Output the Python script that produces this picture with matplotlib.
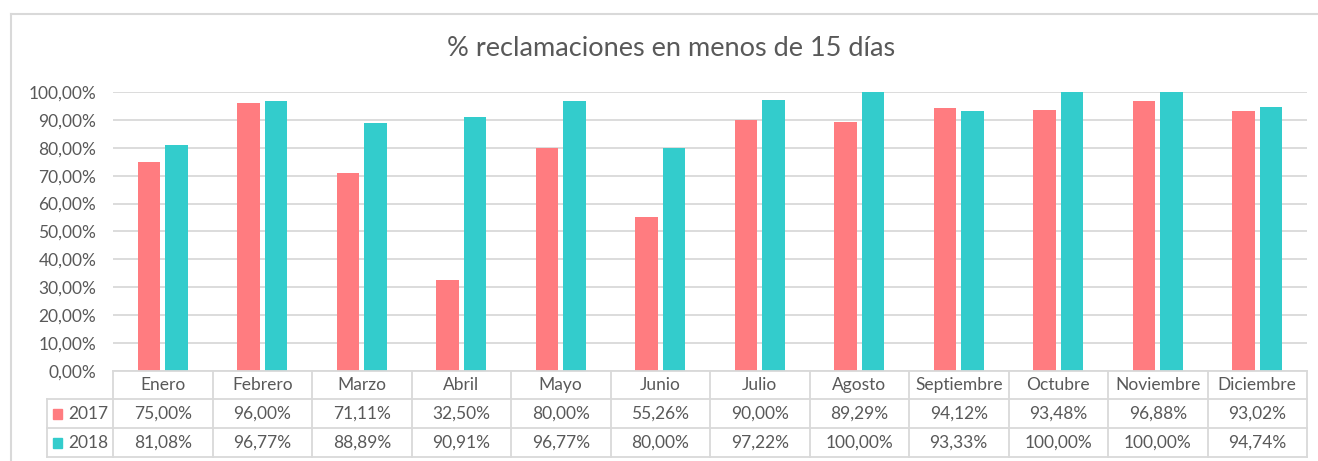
import matplotlib
matplotlib.use("Agg")
import matplotlib.pyplot as plt
from matplotlib.lines import Line2D
from matplotlib.transforms import blended_transform_factory
import numpy as np

months = ["Enero", "Febrero", "Marzo", "Abril", "Mayo", "Junio", "Julio",
          "Agosto", "Septiembre", "Octubre", "Noviembre", "Diciembre"]
v2017 = [75.00, 96.00, 71.11, 32.50, 80.00, 55.26, 90.00, 89.29, 94.12, 93.48, 96.88, 93.02]
v2018 = [81.08, 96.77, 88.89, 90.91, 96.77, 80.00, 97.22, 100.00, 93.33, 100.00, 100.00, 94.74]
series_names = ["2017", "2018"]
title = "% reclamaciones en menos de 15 días"

C17 = "#FF7C80"
C18 = "#33CCCC"
GRID = "#D9D9D9"
TXT = "#595959"

plt.rcParams['font.family'] = ['Lato', 'DejaVu Sans']

W, H = 1318, 461
fig = plt.figure(figsize=(W / 100, H / 100), dpi=100)

def fx(px):
    return px / W

def fy(py):
    return 1 - py / H

left, right, top, bottom = 113, 1307, 92, 371
ax = fig.add_axes([fx(left), fy(bottom), fx(right) - fx(left), fy(top) - fy(bottom)])

x = np.arange(len(months))
bw = 0.225
off = 0.137
ax.bar(x - off, np.array(v2017) / 100, width=bw, color=C17, zorder=3)
ax.bar(x + off, np.array(v2018) / 100, width=bw, color=C18, zorder=3)

ax.set_xlim(-0.5, len(months) - 0.5)
ax.set_ylim(0, 1)
ticks = np.arange(0, 1.01, 0.1)
ax.set_yticks(ticks)
ax.set_yticklabels([f"{t*100:.2f}%".replace(".", ",") for t in ticks], color=TXT, fontsize=12.5)
ax.tick_params(axis='y', length=0, pad=12)
ax.set_xticks([])
for s in ax.spines.values():
    s.set_visible(False)
ax.yaxis.grid(True, color=GRID, linewidth=1.3, zorder=0)
ax.set_axisbelow(True)

# outer chart border
fig.add_artist(Line2D([fx(11), 1], [fy(14), fy(14)], color=GRID, linewidth=1.5, transform=fig.transFigure))
fig.add_artist(Line2D([fx(11), fx(11)], [fy(14), 0], color=GRID, linewidth=1.5, transform=fig.transFigure))

# title
fig.text(fx(671), fy(49), title, ha='center', va='center', fontsize=19.5, color=TXT)

# data table
tr = blended_transform_factory(ax.transData, fig.transFigure)
rows_y = [371, 399, 428, 457]
lw = 1.3
fig.add_artist(Line2D([-0.5, len(months) - 0.5], [fy(371), fy(371)], color=GRID, lw=lw, transform=tr))
for yy in rows_y[1:]:
    fig.add_artist(Line2D([fx(47), fx(right)], [fy(yy), fy(yy)], color=GRID, lw=lw, transform=fig.transFigure))
for i in range(len(months) + 1):
    xb = i - 0.5
    fig.add_artist(Line2D([xb, xb], [fy(371), fy(457)], color=GRID, lw=lw, transform=tr))
fig.add_artist(Line2D([fx(47), fx(47)], [fy(399), fy(457)], color=GRID, lw=lw, transform=fig.transFigure))

fs = 12.5
for i, m in enumerate(months):
    fig.text(i, fy(385), m, transform=tr, ha='center', va='center', fontsize=fs, color=TXT)
    fig.text(i, fy(413.5), f"{v2017[i]:.2f}%".replace(".", ","), transform=tr,
             ha='center', va='center', fontsize=fs, color=TXT)
    fig.text(i, fy(442.5), f"{v2018[i]:.2f}%".replace(".", ","), transform=tr,
             ha='center', va='center', fontsize=fs, color=TXT)

for name, col, yc in [(series_names[0], C17, 413.5), (series_names[1], C18, 442.5)]:
    fig.add_artist(plt.Rectangle((fx(53), fy(yc + 5)), fx(9), fy(0) - fy(10),
                                 color=col, transform=fig.transFigure))
    fig.text(fx(68), fy(yc), name, ha='left', va='center', fontsize=fs, color=TXT)

fig.savefig("out.png", dpi=100)
